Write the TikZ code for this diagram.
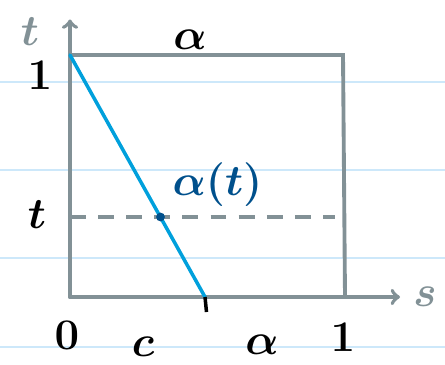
\documentclass[tikz,border=0pt]{standalone}
\definecolor{rahmengrau}{RGB}{130,145,150}
\definecolor{linienblau}{RGB}{0,160,220}
\definecolor{dunkelblau}{RGB}{0,80,140}
\definecolor{heftlinie}{RGB}{205,232,250}
\tikzset{
    rahmen/.style={draw=rahmengrau, line width=2.2pt, line cap=round},
    etikett/.style={font=\Huge\boldmath},
}
\begin{document}
\begin{tikzpicture}
        \useasboundingbox (-1.4,-1.34) rectangle (7.5,5.94);
        % Heftlinien
        \foreach \y in {4.3,2.54,0.78,-1.0}
            \draw[heftlinie, line width=0.8pt] (-1.4,\y) -- (7.5,\y);

        \coordinate (o) at (0,0);
        \coordinate (tl) at (0,4.84);
        \coordinate (tr) at (5.46,4.84);
        \coordinate (br) at (5.5,0);
        \coordinate (c) at (2.7,0);
        \coordinate (tlinks) at (0,1.6);
        \coordinate (trechts) at (5.3,1.6);
        \coordinate (tspitze) at (0,5.55);
        \coordinate (sspitze) at (6.6,0);

        % Achsen
        \draw[rahmen, ->] (o) -- (tspitze);
        \draw[rahmen, ->] (o) -- (sspitze);
        \draw[rahmen] (tl) -- (tr) -- (br);

        \draw[rahmengrau, line width=2pt, dashed, dash pattern=on 9pt off 7pt] (tlinks) -- (trechts);
        \draw[linienblau, line width=2pt, line cap=round] (tl) -- (c);
        \draw[black, line width=2pt] (c) -- ++(0.03,-0.3);
        \fill[dunkelblau] (1.81,1.6) circle (2.5pt) coordinate (at);

        % Beschriftungen
        \node (achset) at (-0.8,5.3) [etikett, rahmengrau] {$t$};
        \node (achses) at (7.1,0) [etikett, rahmengrau] {$s$};
        \node (alphaoben) at (2.4,5.14) [etikett] {$\alpha$};
        \node (einslinks) at (-0.6,4.44) [etikett] {$1$};
        \node (tlabel) at (-0.66,1.64) [etikett] {$t$};
        \node (null) at (-0.06,-0.76) [etikett] {$0$};
        \node (clabel) at (1.46,-1.0) [etikett] {$c$};
        \node (alphaunten) at (3.84,-0.96) [etikett] {$\alpha$};
        \node (einsunten) at (5.46,-0.8) [etikett] {$1$};
        \node (alabel) at (2.95,2.24) [etikett, color=dunkelblau] {$\alpha(t)$};
    \end{tikzpicture}
\end{document}
